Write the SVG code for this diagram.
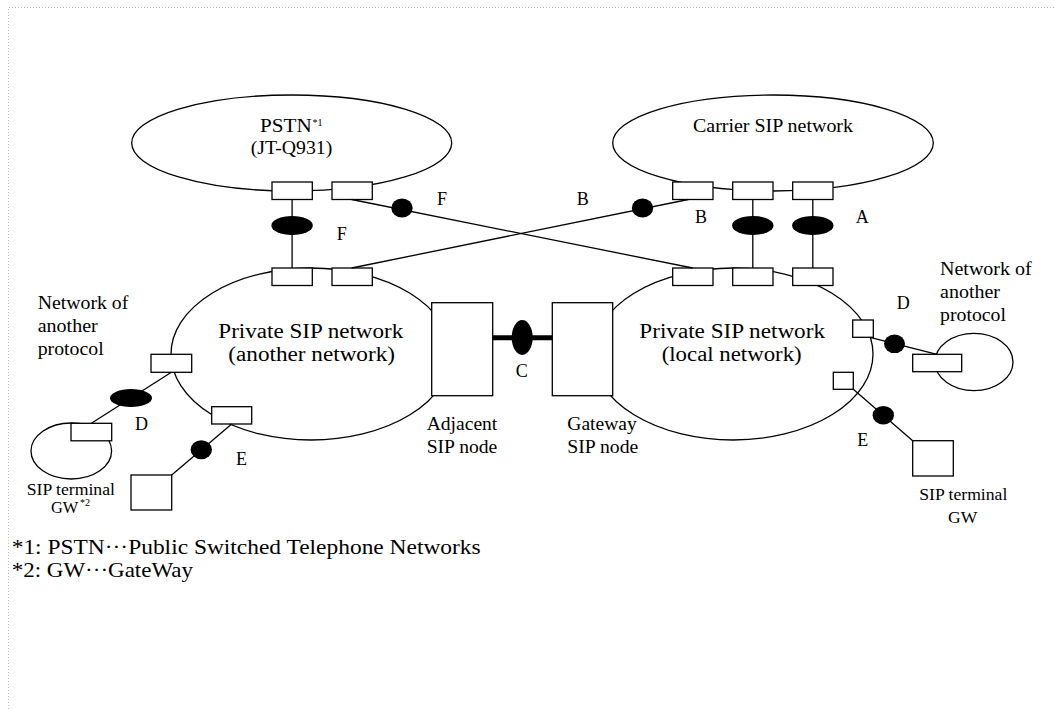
<svg xmlns="http://www.w3.org/2000/svg" width="1054" height="709" viewBox="0 0 1054 709">
<style>
.ln{stroke:#000;stroke-width:1.3;fill:none}
.box{stroke:#000;stroke-width:1.3;fill:#fff}
.dot{fill:#000;stroke:none}
.thick{stroke:#000;stroke-width:5;fill:none}
.t{font-family:"Liberation Serif","Times New Roman",serif;fill:#000}
.f18{font-size:18px}
.f20{font-size:20.5px}
.f16{font-size:16px}
.f21{font-size:21px}
.sup{font-size:10px}
.frame{stroke:#bdbdbd;stroke-width:1;stroke-dasharray:1 2;fill:none}
</style>
<rect width="1054" height="709" fill="#fff"/>
<path class="frame" d="M8.5,709 V7.5 H1054"/>

<g id="pstn">
<ellipse class="ln" cx="291.7" cy="143" rx="160" ry="48"/>
<rect class="box" x="272" y="182" width="40.3" height="17.5"/>
<rect class="box" x="332" y="182" width="40.3" height="17.5"/>
<text class="t f18" x="260" y="132.3" textLength="51.7" lengthAdjust="spacingAndGlyphs">PSTN</text>
<text class="t sup" x="312.5" y="125.5">*1</text>
<text class="t f18" x="250.7" y="154" textLength="81.6" lengthAdjust="spacingAndGlyphs">(JT-Q931)</text>
</g>

<g id="carrier">
<ellipse class="ln" cx="773" cy="143" rx="160.3" ry="48"/>
<rect class="box" x="672.7" y="182" width="40.3" height="17.5"/>
<rect class="box" x="732.7" y="182" width="40.3" height="17.5"/>
<rect class="box" x="792.7" y="182" width="40.3" height="17.5"/>
<text class="t f18" x="693" y="132.3" textLength="160" lengthAdjust="spacingAndGlyphs">Carrier SIP network</text>
</g>

<g id="private-another">
<ellipse class="ln" cx="311" cy="354" rx="140" ry="86"/>
<rect class="box" x="272" y="268" width="40.3" height="17.5"/>
<rect class="box" x="332" y="268" width="40.3" height="17.5"/>
<rect class="box" x="151" y="354.3" width="40.7" height="18"/>
<rect class="box" x="211.7" y="406.7" width="40" height="17.3"/>
<text class="t f20" x="218.3" y="338.3" textLength="185" lengthAdjust="spacingAndGlyphs">Private SIP network</text>
<text class="t f20" x="228.3" y="360.7" textLength="166.7" lengthAdjust="spacingAndGlyphs">(another network)</text>
</g>

<g id="private-local">
<ellipse class="ln" cx="733" cy="354" rx="140" ry="86"/>
<rect class="box" x="672.7" y="268" width="40.3" height="17.5"/>
<rect class="box" x="732.7" y="268" width="40.3" height="17.5"/>
<rect class="box" x="792.7" y="268" width="40.3" height="17.5"/>
<rect class="box" x="852.7" y="320" width="20.6" height="17.3"/>
<rect class="box" x="833.3" y="372.3" width="20" height="17"/>
<text class="t f20" x="639.3" y="338.3" textLength="185.7" lengthAdjust="spacingAndGlyphs">Private SIP network</text>
<text class="t f20" x="661.7" y="360.7" textLength="140" lengthAdjust="spacingAndGlyphs">(local network)</text>
</g>

<g id="adjacent-node">
<rect class="box" x="431.7" y="302.7" width="61" height="93"/>
<text class="t f18" x="426.7" y="430" textLength="70.6" lengthAdjust="spacingAndGlyphs">Adjacent</text>
<text class="t f18" x="426.7" y="452.7" textLength="70.6" lengthAdjust="spacingAndGlyphs">SIP node</text>
</g>

<g id="gateway-node">
<rect class="box" x="552.3" y="302.7" width="60.4" height="93"/>
<text class="t f18" x="567.3" y="430" textLength="69.4" lengthAdjust="spacingAndGlyphs">Gateway</text>
<text class="t f18" x="567.3" y="452.7" textLength="71" lengthAdjust="spacingAndGlyphs">SIP node</text>
</g>

<g id="other-protocol-left">
<ellipse class="ln" cx="71.3" cy="451" rx="40.3" ry="28"/>
<rect class="box" x="71" y="423.3" width="40.7" height="17.5"/>
<text class="t f18" x="37.7" y="308.5" textLength="90.6" lengthAdjust="spacingAndGlyphs">Network of</text>
<text class="t f18" x="37.7" y="332" textLength="60" lengthAdjust="spacingAndGlyphs">another</text>
<text class="t f18" x="37.7" y="355" textLength="66" lengthAdjust="spacingAndGlyphs">protocol</text>
</g>

<g id="other-protocol-right">
<ellipse class="ln" cx="974" cy="362" rx="39" ry="28.7"/>
<rect class="box" x="912.7" y="354.3" width="49" height="17.4"/>
<text class="t f18" x="940" y="275" textLength="91.7" lengthAdjust="spacingAndGlyphs">Network of</text>
<text class="t f18" x="940" y="298" textLength="60" lengthAdjust="spacingAndGlyphs">another</text>
<text class="t f18" x="940" y="321" textLength="66" lengthAdjust="spacingAndGlyphs">protocol</text>
</g>

<g id="terminal-left">
<rect class="box" x="131" y="475" width="40.7" height="35"/>
<text class="t f16" x="26.7" y="495" textLength="88.3" lengthAdjust="spacingAndGlyphs">SIP terminal</text>
<text class="t f16" x="51" y="512.7" textLength="27.3" lengthAdjust="spacingAndGlyphs">GW</text>
<text class="t sup" x="80" y="505.5">*2</text>
</g>

<g id="terminal-right">
<rect class="box" x="912.7" y="440.7" width="40.6" height="35.3"/>
<text class="t f16" x="919.3" y="500" textLength="88" lengthAdjust="spacingAndGlyphs">SIP terminal</text>
<text class="t f16" x="948" y="522.7" textLength="29.3" lengthAdjust="spacingAndGlyphs">GW</text>
</g>

<g id="connectors">
<line class="ln" x1="292.1" y1="199.5" x2="292.1" y2="268"/>
<line class="ln" x1="752.8" y1="199.5" x2="752.8" y2="268"/>
<line class="ln" x1="812.8" y1="199.5" x2="812.8" y2="268"/>
<line class="ln" x1="351.7" y1="199.5" x2="692.7" y2="268"/>
<line class="ln" x1="351.7" y1="268" x2="688.3" y2="199.5"/>
<line class="thick" x1="492.7" y1="337.7" x2="552.3" y2="337.7"/>
<line class="ln" x1="171.4" y1="372.3" x2="91.4" y2="423.3"/>
<line class="ln" x1="231.7" y1="424" x2="171.7" y2="475"/>
<line class="ln" x1="870" y1="337.3" x2="937" y2="354.3"/>
<line class="ln" x1="853.3" y1="389.3" x2="912.7" y2="440.7"/>
<ellipse class="dot" cx="292.1" cy="225.5" rx="20.7" ry="9.5"/>
<ellipse class="dot" cx="752.8" cy="225.5" rx="20.7" ry="9.5"/>
<ellipse class="dot" cx="812.8" cy="225.5" rx="20.7" ry="9.5"/>
<ellipse class="dot" cx="402" cy="208" rx="10.7" ry="9.5"/>
<ellipse class="dot" cx="642.5" cy="208" rx="10.7" ry="9.5"/>
<ellipse class="dot" cx="522.2" cy="337.5" rx="10.5" ry="17.5"/>
<ellipse class="dot" cx="131" cy="398" rx="21" ry="9"/>
<ellipse class="dot" cx="201.3" cy="449.7" rx="10.7" ry="9.5"/>
<ellipse class="dot" cx="894.5" cy="343.8" rx="10.5" ry="9.3"/>
<ellipse class="dot" cx="883.3" cy="415.2" rx="10.7" ry="9.3"/>
<text class="t f18" x="437" y="205">F</text>
<text class="t f18" x="336.7" y="240">F</text>
<text class="t f18" x="576.7" y="205">B</text>
<text class="t f18" x="695" y="222.7">B</text>
<text class="t f18" x="855.7" y="222.7">A</text>
<text class="t f18" x="515.7" y="376.7">C</text>
<text class="t f18" x="135" y="429.5">D</text>
<text class="t f18" x="236" y="465">E</text>
<text class="t f18" x="896.7" y="309">D</text>
<text class="t f18" x="857.3" y="446">E</text>
</g>

<g id="footnotes">
<text class="t f21" x="11.7" y="554" textLength="469" lengthAdjust="spacingAndGlyphs">*1: PSTN···Public Switched Telephone Networks</text>
<text class="t f21" x="11.7" y="576.7" textLength="181.3" lengthAdjust="spacingAndGlyphs">*2: GW···GateWay</text>
</g>
</svg>
